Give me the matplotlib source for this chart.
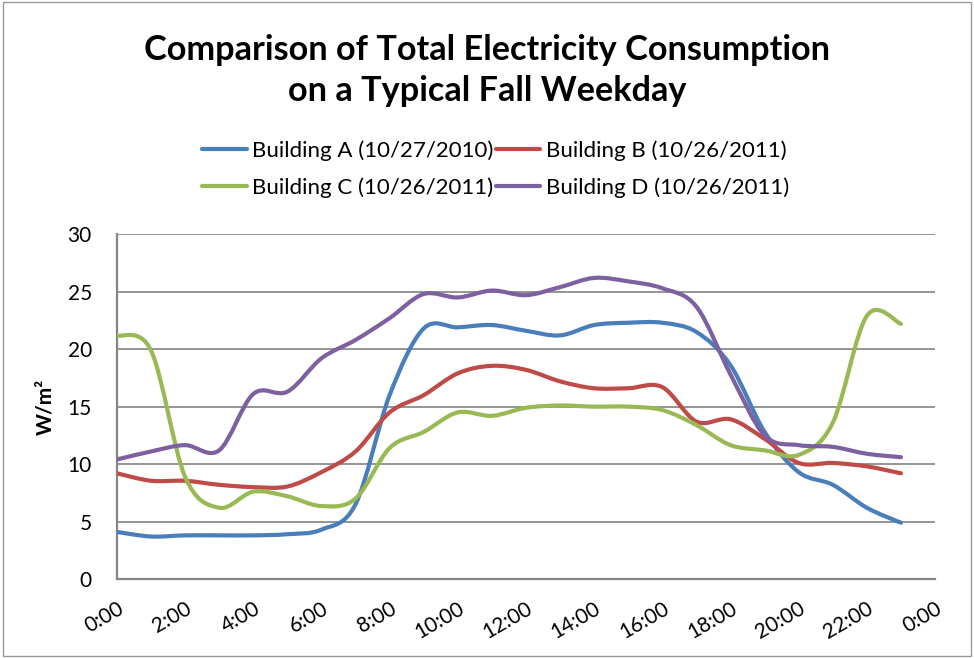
import numpy as np
import matplotlib
matplotlib.use("Agg")
import matplotlib.pyplot as plt
from matplotlib.path import Path
from matplotlib.patches import PathPatch, Rectangle
from matplotlib.lines import Line2D

plt.rcParams['font.family'] = ['Lato', 'DejaVu Sans']

hours = list(range(24))
tick_labels = ["0:00", "2:00", "4:00", "6:00", "8:00", "10:00", "12:00",
               "14:00", "16:00", "18:00", "20:00", "22:00", "0:00"]

building_a = [4.1, 3.7, 3.8, 3.8, 3.8, 3.9, 4.3, 6.5, 16.0, 21.8, 21.9, 22.1,
              21.6, 21.2, 22.1, 22.3, 22.3, 21.5, 18.6, 12.8, 9.3, 8.2, 6.2, 4.9]
building_b = [9.2, 8.55, 8.55, 8.2, 8.0, 8.05, 9.3, 11.1, 14.5, 16.0, 17.9, 18.55,
              18.2, 17.2, 16.6, 16.6, 16.7, 13.7, 13.9, 12.2, 10.1, 10.1, 9.8, 9.2]
building_c = [21.2, 19.9, 8.9, 6.2, 7.6, 7.2, 6.35, 7.0, 11.4, 12.8, 14.5, 14.2,
              14.9, 15.1, 15.0, 15.0, 14.7, 13.4, 11.65, 11.2, 10.8, 13.6, 22.9, 22.2]
building_d = [10.4, 11.1, 11.65, 11.2, 16.1, 16.3, 19.2, 20.8, 22.7, 24.8, 24.5, 25.1,
              24.7, 25.4, 26.2, 25.9, 25.3, 23.7, 17.8, 12.5, 11.65, 11.5, 10.9, 10.6]

series = [
    ("Building A (10/27/2010)", building_a, "#4A7EBB"),
    ("Building B (10/26/2011)", building_b, "#BE4B48"),
    ("Building C (10/26/2011)", building_c, "#98B954"),
    ("Building D (10/26/2011)", building_d, "#7D60A0"),
]


def smooth_path(x, y):
    # excel-style smoothed line as cubic bezier segments
    p = np.column_stack([x, y]).astype(float)
    pts = [p[0]]
    codes = [Path.MOVETO]
    n = len(p)
    for i in range(n - 1):
        p0 = p[i - 1] if i > 0 else p[i]
        p3 = p[i + 2] if i + 2 < n else p[i + 1]
        c1 = p[i] + (p[i + 1] - p0) / 6
        c2 = p[i + 1] - (p3 - p[i]) / 6
        pts += [c1, c2, p[i + 1]]
        codes += [Path.CURVE4] * 3
    return Path(pts, codes)


fig = plt.figure(figsize=(9.74, 6.58), dpi=100)
ax = fig.add_axes([0.120, 0.120, 0.840, 0.524])

handles = []
for label, vals, color in series:
    patch = PathPatch(smooth_path(hours, vals), facecolor="none", edgecolor=color,
                      lw=3, capstyle="round", joinstyle="round", zorder=3)
    ax.add_patch(patch)
    handles.append(Line2D([], [], color=color, lw=3, solid_capstyle="round"))

ax.set_xlim(0, 24)
ax.set_ylim(0, 30)
ax.set_yticks(range(0, 31, 5))
ax.set_xticks(range(0, 25, 2))
ax.set_xticklabels(tick_labels, rotation=30, ha="right", rotation_mode="anchor")
ax.tick_params(axis="both", length=0, labelsize=15)
ax.tick_params(axis="y", pad=18)
ax.tick_params(axis="x", pad=14)
ax.grid(axis="y", color="#8C8C8C", lw=1.3, zorder=0)
for s in ["top", "right"]:
    ax.spines[s].set_visible(False)
for s in ["left", "bottom"]:
    ax.spines[s].set_color("#868686")
    ax.spines[s].set_linewidth(1.6)
ax.set_ylabel("W/m²", fontsize=15, fontweight="bold", labelpad=9)

fig.text(0.5, 0.893, "Comparison of Total Electricity Consumption\non a Typical Fall Weekday",
         ha="center", va="center", fontsize=24.7, fontweight="bold", linespacing=1.33)

# legend fills column-wise, so order A, C, B, D gives rows A|B and C|D
order = [0, 2, 1, 3]
fig.legend([handles[i] for i in order], [series[i][0] for i in order], ncol=2,
           loc="center", bbox_to_anchor=(0.509, 0.743), frameon=False, fontsize=16,
           handlelength=2.0, handletextpad=0.25, columnspacing=0.1, labelspacing=0.75)

fig.add_artist(Rectangle((0.003, 0.003), 0.994, 0.994, transform=fig.transFigure,
                         fill=False, edgecolor="#9A9A9A", lw=1))

fig.savefig("out.png", dpi=100)
